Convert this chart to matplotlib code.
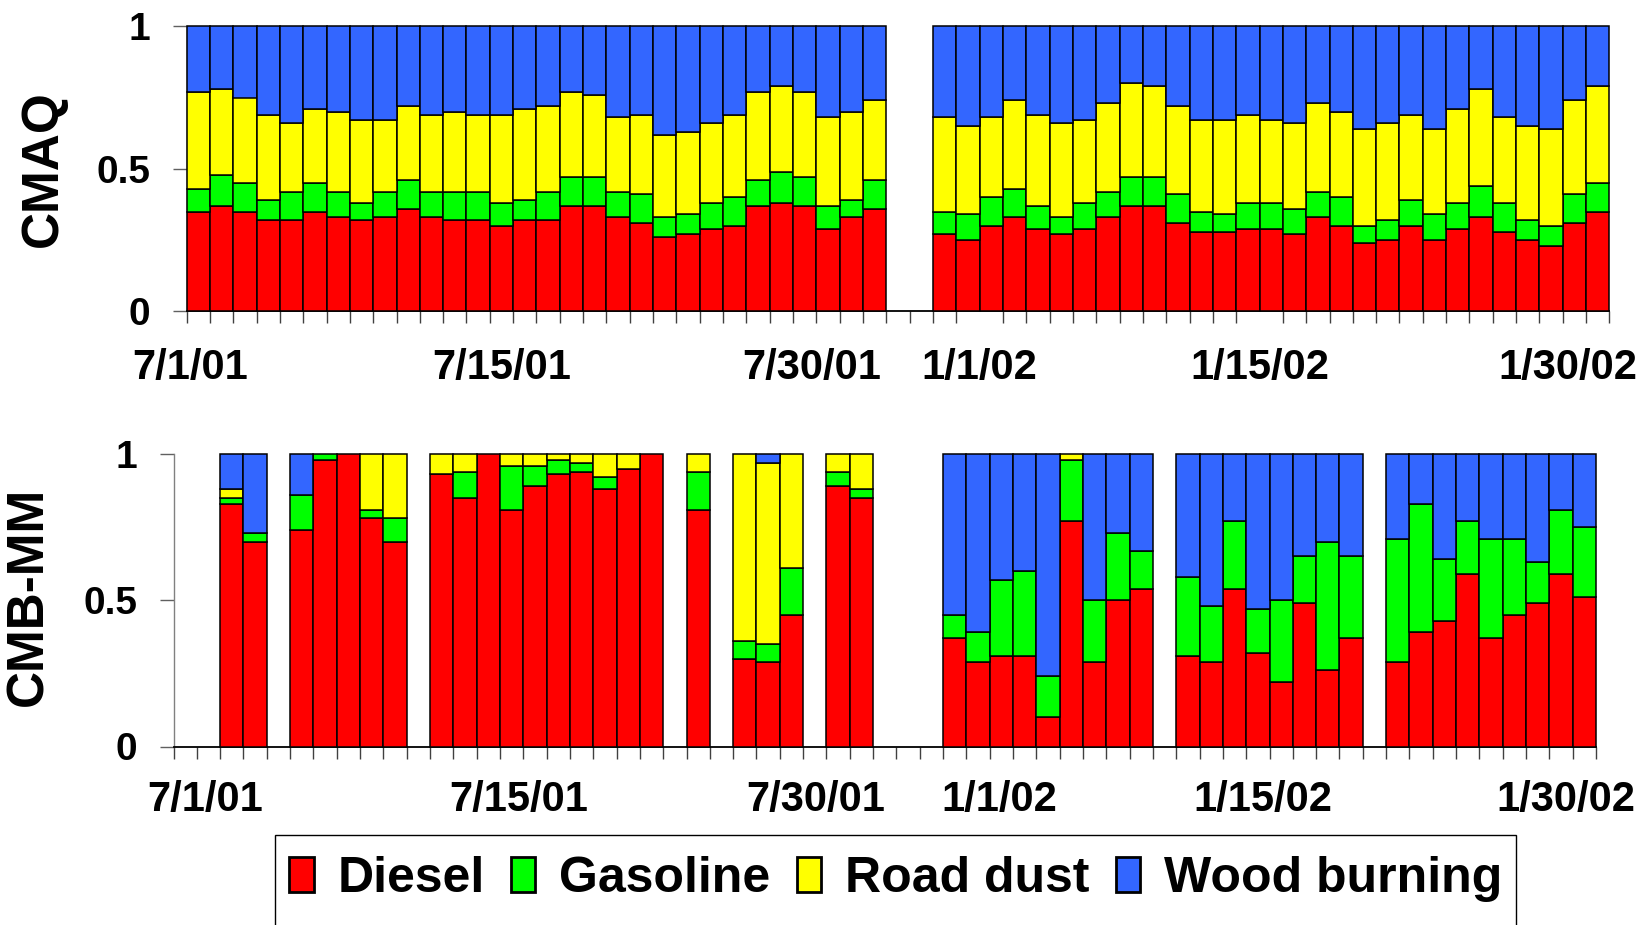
import numpy as np
import matplotlib
matplotlib.use('Agg')
import matplotlib.pyplot as plt
from matplotlib.patches import Patch, Rectangle

plt.rcParams['font.family'] = ['Liberation Sans', 'DejaVu Sans']
plt.rcParams['font.weight'] = 'bold'

# Daily source fractions. One slot per day; None = no bar (gap or missing day).
# CMAQ: 7/1/01-7/30/01, two empty slots, then 1/1/02 onwards
cmaq_diesel = [.35, .37, .35, .32, .32, .35, .33, .32, .33, .36, .33, .32, .32, .30, .32,
               .32, .37, .37, .33, .31, .26, .27, .29, .30, .37, .38, .37, .29, .33, .36,
               None, None,
               .27, .25, .30, .33, .29, .27, .29, .33, .37, .37, .31, .28, .28, .29, .29,
               .27, .33, .30, .24, .25, .30, .25, .29, .33, .28, .25, .23, .31, .35]
cmaq_gasoline = [.08, .11, .10, .07, .10, .10, .09, .06, .09, .10, .09, .10, .10, .08, .07,
                 .10, .10, .10, .09, .10, .07, .07, .09, .10, .09, .11, .10, .08, .06, .10,
                 None, None,
                 .08, .09, .10, .10, .08, .06, .09, .09, .10, .10, .10, .07, .06, .09, .09,
                 .09, .09, .10, .06, .07, .09, .09, .09, .11, .10, .07, .07, .10, .10]
cmaq_road = [.34, .30, .30, .30, .24, .26, .28, .29, .25, .26, .27, .28, .27, .31, .32,
             .30, .30, .29, .26, .28, .29, .29, .28, .29, .31, .30, .30, .31, .31, .28,
             None, None,
             .33, .31, .28, .31, .32, .33, .29, .31, .33, .32, .31, .32, .33, .31, .29,
             .30, .31, .30, .34, .34, .30, .30, .33, .34, .30, .33, .34, .33, .34]
cmaq_wood = [.23, .22, .25, .31, .34, .29, .30, .33, .33, .28, .31, .30, .31, .31, .29,
             .28, .23, .24, .32, .31, .38, .37, .34, .31, .23, .21, .23, .32, .30, .26,
             None, None,
             .32, .35, .32, .26, .31, .34, .33, .27, .20, .21, .28, .33, .33, .31, .33,
             .34, .27, .30, .36, .34, .31, .36, .29, .22, .32, .35, .36, .26, .21]

# CMB-MM: same day slots, only days with samples have values
cmb_diesel = [None, None, .83, .70, None, .74, .98, 1.0, .78, .70,
              None, .93, .85, 1.0, .81, .89, .93, .94, .88, .95,
              1.0, None, .81, None, .30, .29, .45, None, .89, .85,
              None, None, None, .37, .29, .31, .31, .10, .77, .29,
              .50, .54, None, .31, .29, .54, .32, .22, .49, .26,
              .37, None, .29, .39, .43, .59, .37, .45, .49, .59, .51]
cmb_gasoline = [None, None, .02, .03, None, .12, .02, 0, .03, .08,
                None, 0, .09, 0, .15, .07, .05, .03, .04, 0,
                0, None, .13, None, .06, .06, .16, None, .05, .03,
                None, None, None, .08, .10, .26, .29, .14, .21, .21,
                .23, .13, None, .27, .19, .23, .15, .28, .16, .44,
                .28, None, .42, .44, .21, .18, .34, .26, .14, .22, .24]
cmb_road = [None, None, .03, 0, None, 0, 0, 0, .19, .22,
            None, .07, .06, 0, .04, .04, .02, .03, .08, .05,
            0, None, .06, None, .64, .62, .39, None, .06, .12,
            None, None, None, 0, 0, 0, 0, 0, .02, 0,
            0, 0, None, 0, 0, 0, 0, 0, 0, 0,
            0, None, 0, 0, 0, 0, 0, 0, 0, 0, 0]
cmb_wood = [None, None, .12, .27, None, .14, 0, 0, 0, 0,
            None, 0, 0, 0, 0, 0, 0, 0, 0, 0,
            0, None, 0, None, 0, .03, 0, None, 0, 0,
            None, None, None, .55, .61, .43, .40, .76, 0, .50,
            .27, .33, None, .42, .52, .23, .53, .50, .35, .30,
            .35, None, .29, .17, .36, .23, .29, .29, .37, .19, .25]

sources = ['Diesel', 'Gasoline', 'Road dust', 'Wood burning']
colors = ['#FF0000', '#00FF00', '#FFFF00', '#3366FF']

date_labels = ['7/1/01', '7/15/01', '7/30/01', '1/1/02', '1/15/02', '1/30/02']
cmaq_label_pos = [-0.35, 13.0, 26.3, 33.5, 45.5, 58.7]
cmb_label_pos = [0.87, 14.3, 27.05, 34.9, 46.2, 59.2]

W, H = 1644, 925
fig = plt.figure(figsize=(W / 100, H / 100), dpi=100)


def px_axes(left, right, top, bottom):
    return fig.add_axes([left / W, 1 - bottom / H, (right - left) / W, (bottom - top) / H])


def stacked(ax, series, label_pos, label_pad):
    n = len(series[0])
    x = np.arange(n)
    base = np.zeros(n)
    for vals, c in zip(series, colors):
        v = np.array([np.nan if s is None else s for s in vals], dtype=float)
        ok = ~np.isnan(v) & (v > 0)
        ax.bar(x[ok], v[ok], bottom=base[ok], width=1.0, color=c,
               edgecolor='black', linewidth=1.1, clip_on=False, zorder=3)
        base = base + np.nan_to_num(v)
    ax.set_xlim(-0.5, n - 0.5)
    ax.set_ylim(0, 1)
    for s in ['top', 'right']:
        ax.spines[s].set_visible(False)
    ax.spines['left'].set_color('#808080')
    ax.spines['left'].set_linewidth(1.0)
    ax.spines['bottom'].set_color('black')
    ax.spines['bottom'].set_linewidth(1.3)
    ax.set_yticks([0, 0.5, 1])
    ax.set_yticklabels(['0', '0.5', '1'])
    ax.tick_params(axis='y', length=10, width=1.0, color='#606060', pad=16,
                   labelsize=28)
    ax.set_xticks(label_pos)
    ax.set_xticklabels(date_labels)
    ax.set_xticks(np.arange(-0.5, n, 1.0), minor=True)
    ax.tick_params(axis='x', which='major', length=0, pad=label_pad, labelsize=30)
    ax.tick_params(axis='x', which='minor', length=8.6, width=1.0, color='#404040')
    for t in ax.get_xticklabels() + ax.get_yticklabels():
        t.set_fontweight('bold')


ax1 = px_axes(186.6, 1609.4, 26.2, 311.4)
stacked(ax1, [cmaq_diesel, cmaq_gasoline, cmaq_road, cmaq_wood], cmaq_label_pos, 26)

ax2 = px_axes(173.5, 1596.0, 454.0, 746.5)
stacked(ax2, [cmb_diesel, cmb_gasoline, cmb_road, cmb_wood], cmb_label_pos, 24)

fig.text(43 / W, 1 - 169 / H, 'CMAQ', rotation=90, ha='center', va='center',
         fontsize=37, fontweight='bold')
fig.text(29 / W, 1 - 596 / H, 'CMB-MM', rotation=90, ha='center', va='center',
         fontsize=37, fontweight='bold')

# legend with an open-bottomed box
handles = [Patch(facecolor=c, edgecolor='black', linewidth=2.0) for c in colors]
fig.legend(handles, sources, ncol=4, loc='center',
           bbox_to_anchor=(895.5 / W, 1 - 879 / H), frameon=False,
           prop={'size': 36, 'weight': 'bold'}, handlelength=0.49, handleheight=0.71,
           handletextpad=0.47, columnspacing=0.53, borderpad=0)
fig.patches.append(Rectangle((275 / W, -0.05), (1516 - 275) / W, 0.05 + 1 - 835 / H,
                             transform=fig.transFigure, fill=False,
                             edgecolor='black', linewidth=1.0))

fig.savefig('out.png', dpi=100)
